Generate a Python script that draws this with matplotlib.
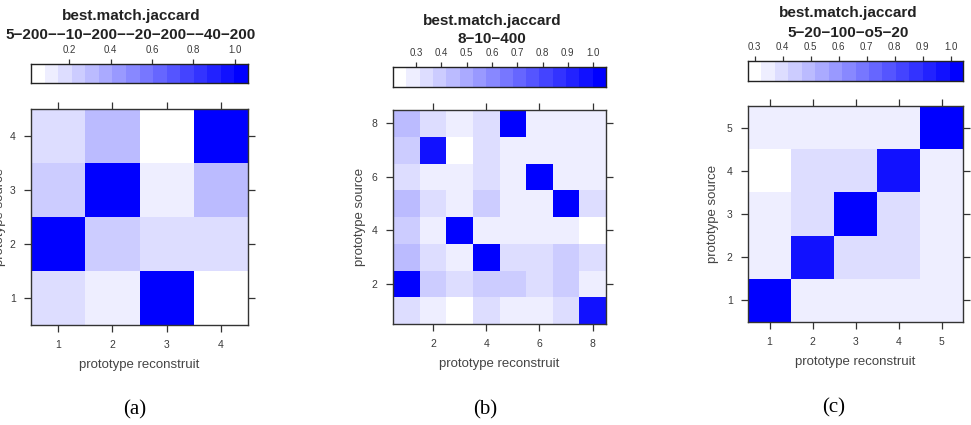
import numpy as np
import matplotlib
matplotlib.use('Agg')
from matplotlib import pyplot as plt
from matplotlib.colors import ListedColormap, BoundaryNorm

# figure size in pixels
W, H = 971, 425

# panel (a) : 4 x 4, rows from y=1 (bottom) to y=4 (top)
data_a = [[0.18, 0.12, 1.00, 0.04],
          [1.00, 0.25, 0.18, 0.18],
          [0.25, 1.00, 0.12, 0.31],
          [0.18, 0.31, 0.04, 1.00]]
title_a = '5\u2212200\u2212\u221210\u2212200\u2212\u221220\u2212200\u2212\u221240\u2212200'
range_a = (0.015, 1.065)
cticks_a = [0.2, 0.4, 0.6, 0.8, 1.0]
ticks_a = [1, 2, 3, 4]

# panel (b) : 8 x 8
data_b = [[0.34, 0.29, 0.23, 0.34, 0.29, 0.29, 0.34, 0.97],
          [1.00, 0.39, 0.34, 0.39, 0.39, 0.34, 0.39, 0.29],
          [0.44, 0.34, 0.29, 1.00, 0.34, 0.34, 0.39, 0.34],
          [0.39, 0.29, 1.00, 0.29, 0.29, 0.29, 0.29, 0.23],
          [0.44, 0.34, 0.29, 0.39, 0.29, 0.29, 1.00, 0.34],
          [0.34, 0.29, 0.29, 0.34, 0.29, 1.00, 0.29, 0.29],
          [0.39, 0.97, 0.23, 0.34, 0.29, 0.29, 0.29, 0.29],
          [0.44, 0.34, 0.29, 0.34, 1.00, 0.29, 0.29, 0.29]]
title_b = '8\u221210\u2212400'
range_b = (0.209, 1.051)
cticks_b = [0.3, 0.4, 0.5, 0.6, 0.7, 0.8, 0.9, 1.0]
ticks_b = [2, 4, 6, 8]

# panel (c) : 5 x 5
data_c = [[1.00, 0.35, 0.35, 0.35, 0.35],
          [0.35, 0.96, 0.40, 0.40, 0.35],
          [0.35, 0.40, 1.00, 0.40, 0.35],
          [0.30, 0.40, 0.40, 0.96, 0.35],
          [0.35, 0.35, 0.35, 0.35, 1.00]]
title_c = '5\u221220\u2212100\u2212o5\u221220'
range_c = (0.2765, 1.044)
cticks_c = [0.3, 0.4, 0.5, 0.6, 0.7, 0.8, 0.9, 1.0]
ticks_c = [1, 2, 3, 4, 5]

# white -> blue, 16 bands like lattice levelplot
nband = 16
cols = [(1 - k / (nband - 1), 1 - k / (nband - 1), 1.0) for k in range(nband)]
cmap = ListedColormap(cols)

plt.rcParams['font.family'] = ['Liberation Sans', 'DejaVu Sans']
edge = '#333333'
tcol = '#3a3a3a'


def rect(x0, y0, x1, y1):
    return [x0 / W, 1 - y1 / H, (x1 - x0) / W, (y1 - y0) / H]


fig = plt.figure(figsize=(W / 100, H / 100), dpi=100)

panels = [
    (data_a, range_a, cticks_a, ticks_a, title_a, (31, 109, 248, 325), (31, 64, 248, 83), 131, (16, 35), 31, '(a)', (135, 410)),
    (data_b, range_b, cticks_b, ticks_b, title_b, (393, 110, 606, 324), (393, 67, 606, 87), 492, (21, 39), 33, '(b)', (485, 410)),
    (data_c, range_c, cticks_c, ticks_c, title_c, (748, 106, 963, 322), (748, 61, 963, 81), 848, (13, 33), 35, '(c)', (834, 408)),
]

for data, rng, cticks, ticks, title, hbox, cbox, tx, ty, ylab_off, cap, cpos in panels:
    z = np.array(data)
    n = z.shape[0]
    bounds = np.linspace(rng[0], rng[1], nband + 1)
    norm = BoundaryNorm(bounds, nband)

    # heatmap
    ax = fig.add_axes(rect(*hbox))
    edges = np.arange(n + 1) + 0.5
    ax.pcolormesh(edges, edges, z, cmap=cmap, norm=norm)
    ax.set_xlim(0.5, n + 0.5)
    ax.set_ylim(0.5, n + 0.5)
    ax.set_xticks(ticks)
    ax.set_yticks(ticks)
    ax.tick_params(direction='out', length=5, width=0.9, color=edge,
                   labelsize=7.5, labelcolor=tcol, pad=6,
                   top=True, right=True, labeltop=False, labelright=False)
    for s in ax.spines.values():
        s.set_color(edge)
        s.set_linewidth(1.0)
    w = hbox[2] - hbox[0]
    h = hbox[3] - hbox[1]
    ax.set_xlabel('prototype reconstruit', fontsize=9.5, color='#444444')
    ax.xaxis.set_label_coords(0.5, -40 / h)
    ax.xaxis.label.set_va('center')
    ax.set_ylabel('prototype source', fontsize=9.5, color='#444444')
    ax.yaxis.set_label_coords(-ylab_off / w, 0.5)
    ax.yaxis.label.set_va('center')

    # colour key on top
    cax = fig.add_axes(rect(*cbox))
    cax.pcolormesh(bounds, [0, 1], np.array([(bounds[:-1] + bounds[1:]) / 2]),
                   cmap=cmap, norm=norm)
    cax.set_xlim(rng)
    cax.set_ylim(0, 1)
    cax.set_yticks([])
    cax.set_xticks(cticks)
    cax.set_xticklabels(['%.1f' % v for v in cticks])
    cax.tick_params(axis='x', direction='out', length=3.5, width=0.9, color=edge,
                    labelsize=7, labelcolor=tcol, pad=3,
                    top=True, bottom=False, labeltop=True, labelbottom=False)
    for s in cax.spines.values():
        s.set_color('#222222')
        s.set_linewidth(1.0)

    # titles
    fig.text(tx / W, 1 - ty[0] / H, 'best.match.jaccard', ha='center', va='center',
             fontsize=11, fontweight='bold', color='#222222')
    fig.text(tx / W, 1 - ty[1] / H, title, ha='center', va='center',
             fontsize=11, fontweight='bold', color='#222222')

    # caption
    fig.text(cpos[0] / W, 1 - cpos[1] / H, cap, ha='center', va='center',
             fontsize=15, family=['Liberation Serif', 'DejaVu Serif'])

fig.savefig('out.png', dpi=100)
